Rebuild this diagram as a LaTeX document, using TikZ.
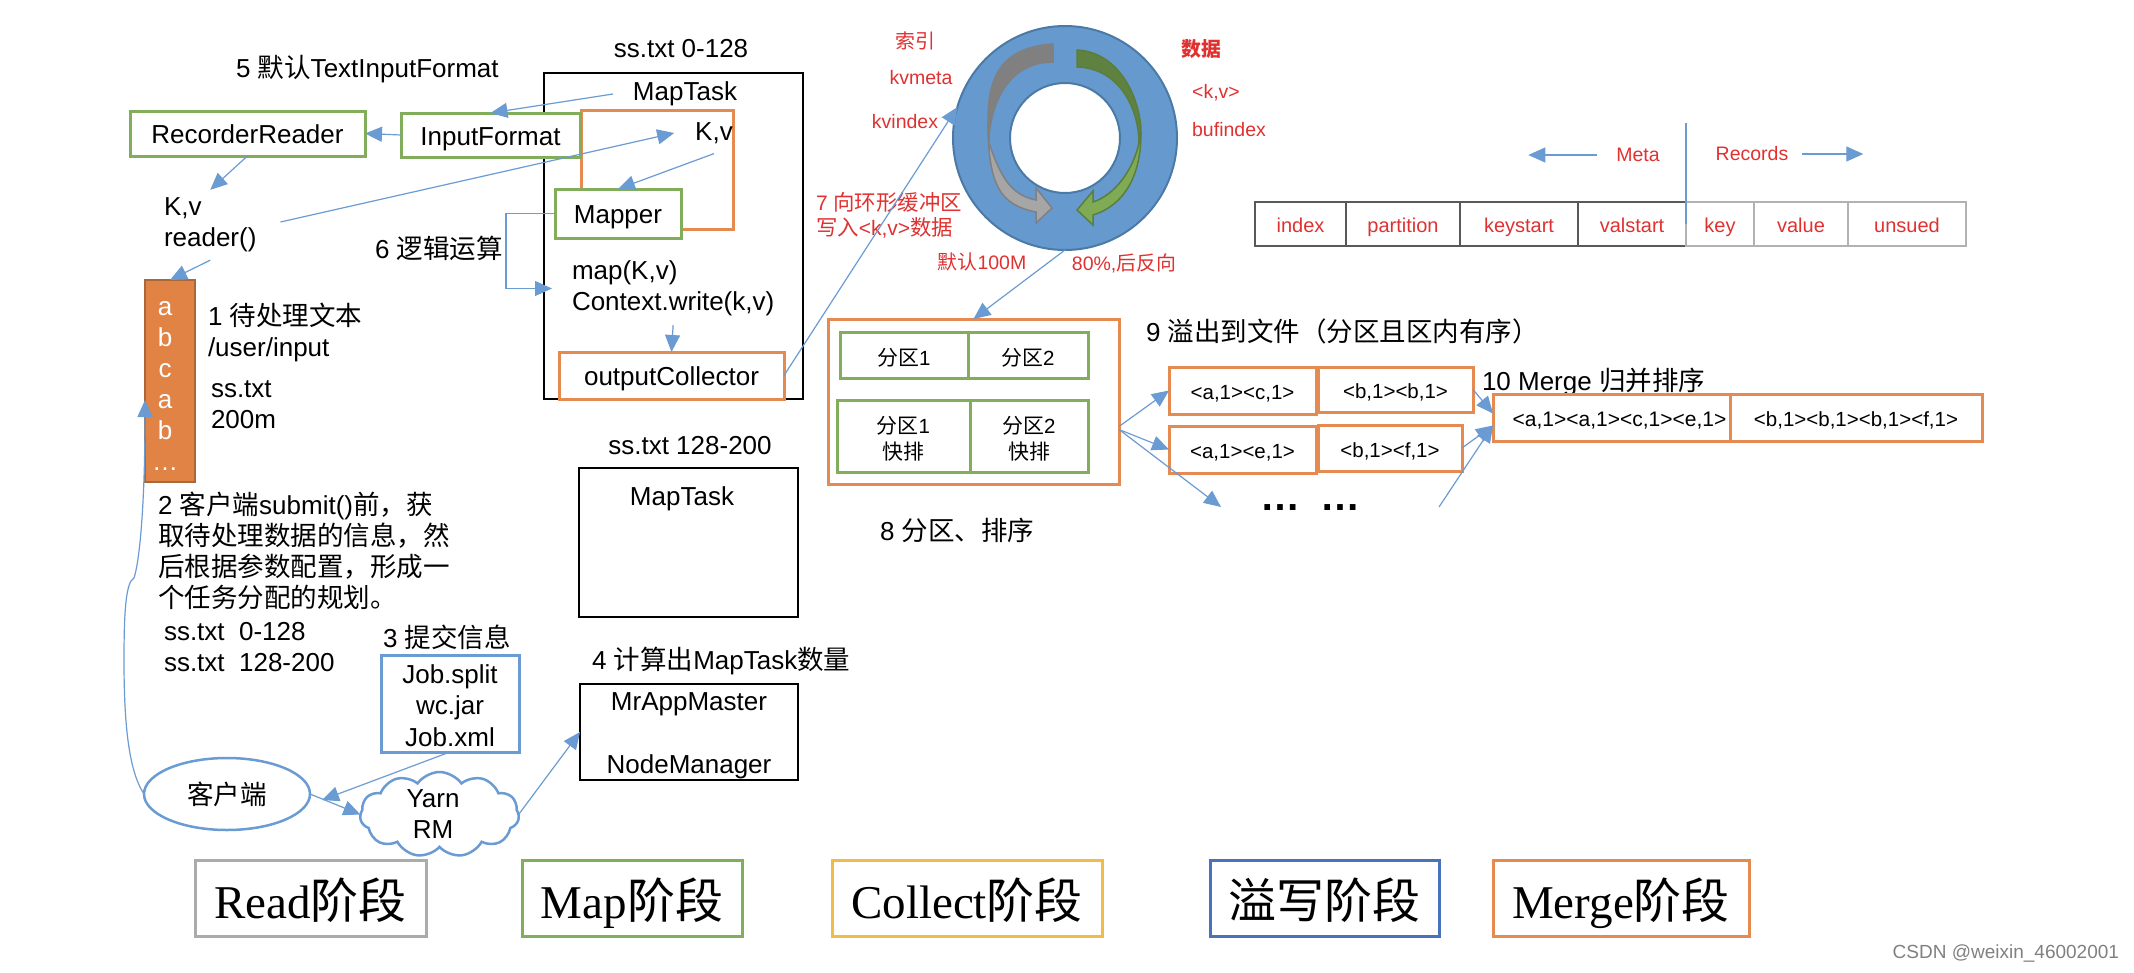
\documentclass[tikz,border=0pt]{standalone}
\usepackage{xcolor}
\usepackage{fontspec}
\setmainfont{Liberation Sans}
\newfontfamily\cjk[Scale=1.02]{Noto Sans CJK SC}
\newfontfamily\latserif{Liberation Serif}
\usepackage{tikz}
\usetikzlibrary{shapes.geometric, arrows.meta, positioning, calc, shapes.symbols}
\definecolor{linkblue}{HTML}{6A9BD3}
\definecolor{ringblue}{HTML}{6699CE}
\definecolor{ringedge}{HTML}{4C7AA6}
\definecolor{boxorange}{HTML}{E58A50}
\definecolor{colorange}{HTML}{E08344}
\definecolor{coledge}{HTML}{A9683A}
\definecolor{boxgreen}{HTML}{82AD5A}
\definecolor{boxyellow}{HTML}{F0BC45}
\definecolor{boxnavy}{HTML}{4A72BC}
\definecolor{boxgray}{HTML}{ABABAB}
\definecolor{notered}{HTML}{E03131}
\definecolor{graydark}{HTML}{808080}
\definecolor{graylite}{HTML}{A6A6A6}
\definecolor{greendark}{HTML}{5F8240}
\definecolor{greenlite}{HTML}{7FAB55}
\definecolor{greenedge}{HTML}{5B7E3C}
\newcommand{\zh}[1]{{\cjk #1}}
\newcommand{\lblfont}{\fontsize{26}{31}\selectfont}
\newcommand{\redfont}{\fontsize{19.5}{25}\selectfont}
\newcommand{\spillfont}{\fontsize{20.5}{25}\selectfont}
\newcommand{\partfont}{\fontsize{20.5}{26}\selectfont}
\newcommand{\phasefont}{\fontsize{47}{54}\selectfont\latserif}

\begin{document}
\begin{tikzpicture}[
  x=1pt, y=-1pt,
  every node/.style={font=\lblfont, inner sep=0pt, outer sep=0pt},
  arrow/.style={-{Triangle[length=17pt,width=15pt]}, line width=1.2pt, color=linkblue},
  plainline/.style={line width=1.2pt, color=linkblue},
  boxtext/.style={text height=20pt, text depth=0pt},
  blackbox/.style={rectangle, draw=black, line width=2.8pt, fill=white},
  greenbox/.style={rectangle, draw=boxgreen, line width=3pt, fill=white, align=center},
  orangebox/.style={rectangle, draw=boxorange, line width=3pt, fill=white, align=center},
  bluebox/.style={rectangle, draw=linkblue, line width=3pt, fill=white, align=center},
  spillbox/.style={orangebox, font=\spillfont, text height=18pt, text depth=0pt},
  partcell/.style={greenbox, font=\partfont},
  note/.style={align=left, anchor=west},
  rednote/.style={font=\redfont, text=notered, align=left},
  cell/.style={rectangle, draw=#1, line width=1.1pt, minimum height=44pt,
    font=\fontsize{20}{25}\selectfont, text=notered, text height=17pt, text depth=0pt},
  phase/.style={rectangle, draw=#1, line width=3pt, fill=white, font=\phasefont,
    minimum height=76pt, text height=40pt, text depth=0pt},
]
\useasboundingbox (0,0) rectangle (2134,972);

% Map task frames
\node[blackbox, minimum width=259pt, minimum height=326pt] (task1) at (673.5,236) {};
\node[blackbox, minimum width=219pt, minimum height=149pt] (task2) at (688.5,542.5) {};
\node[blackbox, minimum width=218pt, minimum height=96pt] (mrapp) at (689,732) {};
\node[align=center] (mrtxt) at (689,736) {MrAppMaster\\[0.5pt]\mbox{}\\[0.5pt]NodeManager};
\node (ss1) at (681,48.5) {ss.txt 0-128};
\node (ss2) at (690,445.5) {ss.txt 128-200};
\node (maptxt) at (685,94) {MapTask};
\node (maptxt2) at (682,499) {MapTask};
\node[note] (countnote) at (592,661) {4 \zh{计算出}MapTask\zh{数量}};

% Read side
\node[orangebox, minimum width=152pt, minimum height=119pt] (kvframe) at (657,169.5) {};
\node[greenbox, boxtext, minimum width=235pt, minimum height=45pt] (rdr) at (247.5,133.5) {RecorderReader};
\node[greenbox, boxtext, minimum width=179pt, minimum height=44pt] (inputfmt) at (490.5,135) {InputFormat};
\node[greenbox, boxtext, minimum width=126pt, minimum height=49pt] (mapper) at (618,213.5) {Mapper};
\node[orangebox, boxtext, minimum width=225pt, minimum height=47pt] (collector) at (671.5,375.5) {outputCollector};
\node (kv) at (714,133) {K,v};
\node[note] (fmtnote) at (236,69) {5 \zh{默认}TextInputFormat};
\node[note] (kvreader) at (164,225) {K,v\\reader()};
\node[note] (logicnote) at (375,248) {6 \zh{逻辑运算}};
\node[note] (mapfn) at (572,288.5) {map(K,v)\\Context.write(k,v)};

% Input text column
\node[rectangle, draw=coledge, line width=2.5pt, fill=colorange,
      minimum width=50pt, minimum height=202pt] (col) at (170,381) {};
\node[text=white, align=center] (letters) at (165,385.5) {a\\b\\c\\a\\b\\…};
\node[note] (textnote) at (208,332.5) {1 \zh{待处理文本}\\/user/input};
\node[note] (sizenote) at (211,404.5) {ss.txt\\200m};
\node[note] (plannote) at (158,551) {2 \zh{客户端}submit()\zh{前，获}\\\zh{取待处理数据的信息，然}\\\zh{后根据参数配置，形成一}\\\zh{个任务分配的规划。}};
\node[note] (splitnote) at (164,647.5) {ss.txt\ \ 0-128\\ss.txt\ \ 128-200};

% Client and Yarn
\node[note] (infonote) at (383,637) {3 \zh{提交信息}};
\node[bluebox, minimum width=138pt, minimum height=97pt] (job) at (450,703.5) {};
\node[align=center] (jobtxt) at (450,705.5) {Job.split\\[0.5pt]wc.jar\\[0.5pt]Job.xml};
\node[ellipse, draw=linkblue, line width=2.5pt, fill=white,
      minimum width=166pt, minimum height=72pt] (client) at (227,794) {\zh{客户端}};
\node[cloud, cloud puffs=11, cloud puff arc=110, aspect=1.8, draw=linkblue, line width=2.5pt, fill=white,
      minimum width=159pt, minimum height=85pt] (yarn) at (439.5,814.5) {};
\node[align=center] (yarntxt) at (433,814.5) {Yarn\\RM};
\coordinate (coltip) at (145,400);

% Ring buffer
\node[circle, draw=ringedge, line width=2pt, fill=ringblue, minimum size=224pt] (ring) at (1065,138) {};
\node[circle, draw=ringedge, line width=2pt, fill=white, minimum size=110pt] (hole) at (1065,138) {};
\draw[draw=graydark, fill=graydark, line width=1.5pt] (1053,44) .. controls (985,48) and (988,100) .. (988,133)
  -- (989,143) .. controls (989,110) and (1005,62) .. (1053,62) -- cycle;
\draw[draw=graydark, fill=graylite, line width=1.5pt] (988,133) .. controls (990,185) and (1000,205) .. (1036,212)
  -- (1036,223) -- (1052,208) -- (1036,188) -- (1036,200) .. controls (1010,195) and (1000,175) .. (989,143) -- cycle;
\draw[draw=greenedge, fill=greendark, line width=1.5pt] (1077,50) .. controls (1120,52) and (1141,100) .. (1141,133)
  -- (1139,143) .. controls (1139,110) and (1120,68) .. (1077,67) -- cycle;
\draw[draw=greenedge, fill=greenlite, line width=1.5pt] (1141,133) .. controls (1141,175) and (1125,205) .. (1093,215)
  -- (1093,225) -- (1077,210) -- (1093,191) -- (1093,202) .. controls (1115,195) and (1133,170) .. (1139,143) -- cycle;
\node[rednote] (idxcn) at (915,41) {\zh{索引}};
\node[rednote] (kvmeta) at (921,78) {kvmeta};
\node[rednote] (kvindex) at (905,122) {kvindex};
\node[rednote] (datacn) at (1201,49) {{\cjk\bfseries 数据}};
\node[rednote] (kvpair) at (1216,93) {<k,v>};
\node[rednote] (bufindex) at (1229,130) {bufindex};
\node[rednote, anchor=west, font=\fontsize{21}{25}\selectfont] (writenote) at (816,215.5) {7 \zh{向环形缓冲区}\\\zh{写入}<k,v>\zh{数据}};
\node[rednote] (sizecn) at (982,262) {\zh{默认}100M};
\node[rednote] (reversecn) at (1124,263) {80\%,\zh{后反向}};

% Meta layout row
\node[cell=black!65, minimum width=91pt] (cidx) at (1300.5,224) {index};
\node[cell=black!65, minimum width=114pt, right=0pt of cidx] (cpart) {partition};
\node[cell=black!65, minimum width=118pt, right=0pt of cpart] (ckeyst) {keystart};
\node[cell=black!65, minimum width=108pt, right=0pt of ckeyst] (cvalst) {valstart};
\node[cell=black!30, minimum width=68pt, right=0pt of cvalst] (ckey) {key};
\node[cell=black!30, minimum width=94pt, right=0pt of ckey] (cvalue) {value};
\node[cell=black!30, minimum width=118pt, right=0pt of cvalue] (cunsued) {unsued};
\node[rednote] (meta) at (1638,155) {Meta};
\node[rednote] (records) at (1752,154) {Records};
\coordinate (divtop) at (1686,123);

% Partition and sort
\node[orangebox, minimum width=291pt, minimum height=165pt] (part) at (973.5,401.5) {};
\node[partcell, text height=20pt, text depth=0pt, minimum width=128pt, minimum height=46pt] (p1) at (904,355) {\zh{分区}1};
\node[partcell, text height=20pt, text depth=0pt, minimum width=120pt, minimum height=46pt, right=0pt of p1] (p2) {\zh{分区}2};
\node[partcell, minimum width=133pt, minimum height=72pt] (q1) at (903.5,436) {};
\node[partcell, minimum width=118pt, minimum height=72pt, right=0pt of q1] (q2) {};
\node[align=center, font=\partfont] (q1txt) at (903.5,438.5) {\zh{分区}1\\\zh{快排}};
\node[align=center, font=\partfont] (q2txt) at (1029,438.5) {\zh{分区}2\\\zh{快排}};
\node[note] (sortnote) at (880,530) {8 \zh{分区、排序}};

% Spill files
\node[note] (spillnote) at (1146,331) {9 \zh{溢出到文件（分区且区内有序）}};
\node[spillbox, minimum width=147pt, minimum height=47pt] (sp1) at (1242.5,390.5) {<a,1><c,1>};
\node[spillbox, minimum width=155pt, minimum height=45pt] (sp2) at (1395.5,389.5) {<b,1><b,1>};
\node[spillbox, minimum width=147pt, minimum height=47pt] (sp3) at (1242.5,449.5) {<a,1><e,1>};
\node[spillbox, minimum width=144pt, minimum height=46pt] (sp4) at (1390,448) {<b,1><f,1>};
\node[anchor=base, font=\fontsize{40}{46}\selectfont\bfseries] (moredots) at (1310,510) {…\,\,\,…};
\coordinate (dotsin) at (1221,507);
\coordinate (dotsout) at (1439,507);

% Merge
\node[note] (mergenote) at (1482,382) {10 Merge \zh{归并排序}};
\node[spillbox, font=\fontsize{21}{25}\selectfont, minimum width=237pt, minimum height=47pt] (mg1) at (1611.5,417.5) {\hspace*{16pt}<a,1><a,1><c,1><e,1>};
\node[spillbox, minimum width=252pt, minimum height=47pt, right=0pt of mg1] (mg2) {<b,1><b,1><b,1><f,1>};

% Phase legend
\node[phase=boxgray, minimum width=231pt] (ph1) at (310.5,898) {Read\zh{阶段}};
\node[phase=boxgreen, minimum width=220pt] (ph2) at (632,898) {Map\zh{阶段}};
\node[phase=boxyellow, minimum width=270pt] (ph3) at (967,898) {Collect\zh{阶段}};
\node[phase=boxnavy, minimum width=229pt] (ph4) at (1324.5,898) {\zh{溢写阶段}};
\node[phase=boxorange, minimum width=256pt] (ph5) at (1621,898) {Merge\zh{阶段}};
\node[anchor=east, font=\fontsize{19}{23}\selectfont, text=black!50] (mark) at (2119,953) {CSDN @weixin\_46002001};

% Arrows — read path
\draw[arrow] ([xshift=-20pt]maptxt.west) -- (inputfmt.north);
\draw[arrow] (inputfmt.west) -- (rdr.east);
\draw[arrow] (rdr.south) -- ([yshift=8pt]kvreader.north);
\draw[arrow] ([xshift=24pt,yshift=3pt]kvreader.east) -- ([xshift=-21pt]kv.west);
\draw[arrow] ([yshift=-10pt]kv.south) -- (mapper.north);
\draw[arrow] (mapper.west) -- ++(-49,0) |- ([xshift=-20pt]mapfn.west);
\draw[arrow] ([yshift=-9pt]mapfn.south) -- (collector.north);
\draw[arrow] ([yshift=-8pt]kvreader.south) -- (col.north);

% Client to Yarn
\draw[arrow] (client.west) .. controls (128,770) and (124,720) .. (124,660)
  .. controls (124,610) and (126,582) .. (134,578)
  .. controls (140,560) and (145,500) .. (coltip);
\draw[arrow] (client.east) -- (yarn.west);
\draw[arrow] (job.south) -- ([xshift=12pt,yshift=-6pt]client.east);
\draw[arrow] (yarn.east) -- (mrapp.west);

% Buffer and spill
\draw[arrow] (collector.east) -- (ring.164);
\draw[arrow] (ring.south) -- (part.north);
\draw[plainline] (divtop) -- (cvalst.east -| divtop);
\draw[arrow] ([xshift=-19pt]meta.west) -- ++(-69,0);
\draw[arrow] ([xshift=14pt]records.east) -- ++(61,0);
\draw[arrow] ([yshift=-25pt]part.east) -- (sp1.west);
\draw[arrow] ([yshift=-28pt]part.east) -- (sp3.west);
\draw[arrow] ([yshift=-28pt]part.east) -- (dotsin);
\draw[arrow] (sp2.east) -- ([yshift=4pt]mg1.west);
\draw[arrow] (sp4.east) -- ([yshift=-8pt]mg1.west);
\draw[arrow] (dotsout) -- ([yshift=-8pt]mg1.west);

\end{tikzpicture}
\end{document}
